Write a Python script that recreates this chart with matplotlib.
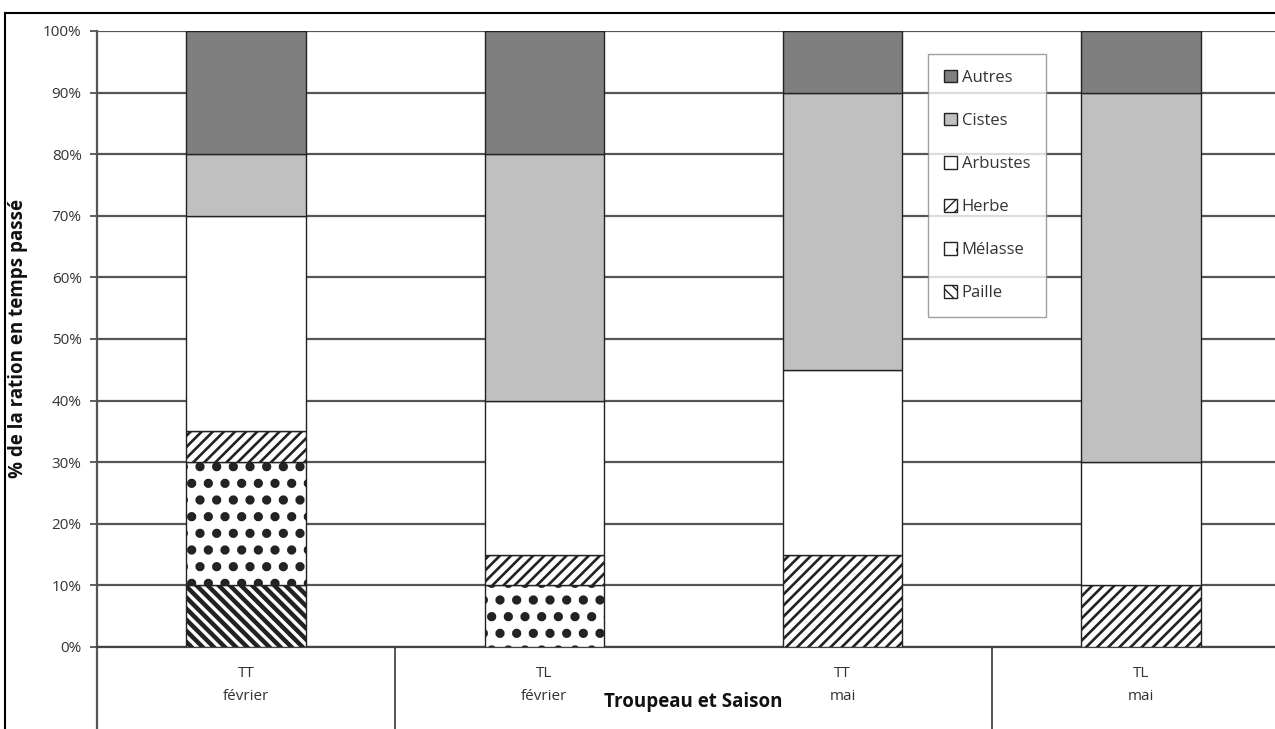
import matplotlib.pyplot as plt
import numpy as np
from matplotlib.lines import Line2D

plt.rcParams['font.family'] = ['Open Sans', 'DejaVu Sans']

# Share of the diet (% of time spent), stacked from bottom to top
groups = ['TT\nfévrier', 'TL\nfévrier', 'TT\nmai', 'TL\nmai']
components = ['Paille', 'Mélasse', 'Herbe', 'Arbustes', 'Cistes', 'Autres']
paille = [10, 0, 0, 0]
melasse = [20, 10, 0, 0]
herbe = [5, 5, 15, 10]
arbustes = [35, 25, 30, 20]
cistes = [10, 40, 45, 60]
autres = [20, 20, 10, 10]
series = [paille, melasse, herbe, arbustes, cistes, autres]

colors = ['white', 'white', 'white', 'white', '#c0c0c0', '#7f7f7f']
hatches = ['\\\\\\', '.', '///', None, None, None]
hatch_lw = [3.2, 4.2, 1.9, 1.0, 1.0, 1.0]

fig = plt.figure(figsize=(12.75, 7.29), dpi=100)
W, H = 1275, 729
ax = fig.add_axes([97 / W, 1 - 647 / H, (1290 - 97) / W, (647 - 31) / H])

x = np.arange(len(groups))
bottom = np.zeros(len(groups))
handles = []
for name, vals, col, hat, hlw in zip(components, series, colors, hatches, hatch_lw):
    with plt.rc_context({'hatch.linewidth': hlw}):
        bars = ax.bar(x, vals, 0.40, bottom=bottom, color=col, edgecolor='#222222',
                      linewidth=1.0, hatch=hat, label=name, zorder=3)
    handles.append(bars)
    bottom += np.array(vals)

ax.set_xlim(-0.5, 3.5)
ax.set_ylim(0, 100)
ax.set_yticks(np.arange(0, 101, 10))
ax.set_yticklabels([f'{v}%' for v in range(0, 101, 10)], fontsize=11, color='#333333')
ax.tick_params(axis='y', direction='out', length=5, width=1.2, color='#444444', pad=6)
ax.set_xticks([])
ax.yaxis.grid(True, color='#555555', linewidth=1.6, zorder=0)
ax.set_axisbelow(True)
for s in ['top', 'right']:
    ax.spines[s].set_visible(False)
ax.spines['left'].set_color('#555555')
ax.spines['left'].set_linewidth(1.6)
ax.spines['bottom'].set_color('#444444')
ax.spines['bottom'].set_linewidth(1.6)

# category box under the axis
ax.add_line(Line2D([0, 0], [0, -0.2], transform=ax.transAxes, color='#555555',
                   linewidth=1.6, clip_on=False))
for xb in [0.5, 2.5]:
    ax.add_line(Line2D([xb, xb], [0, -0.2], transform=ax.get_xaxis_transform(),
                       color='#555555', linewidth=1.4, clip_on=False))
for xi, g in zip(x, groups):
    ax.text(xi, -0.031, g, transform=ax.get_xaxis_transform(), ha='center', va='top',
            fontsize=11, color='#333333', linespacing=1.75)
ax.text(1.5, -0.089, 'Troupeau et Saison', transform=ax.get_xaxis_transform(),
        ha='center', va='center', fontsize=13.5, fontweight='bold', color='#111111')

ax.set_ylabel('% de la ration en temps passé', fontsize=13.5, fontweight='bold',
              color='#111111')
ax.yaxis.set_label_coords(-0.058, 0.5)

leg = ax.legend(handles[::-1], components[::-1], loc='upper left',
                bbox_to_anchor=(928 / W, 1 - 54 / H), bbox_transform=fig.transFigure,
                fontsize=12, frameon=True, fancybox=False, edgecolor='#888888',
                labelspacing=1.62, handlelength=0.78, handleheight=0.78,
                handletextpad=0.3, borderpad=0.95, borderaxespad=0)
leg.get_frame().set_linewidth(1.0)
leg.set_zorder(5)
for t in leg.get_texts():
    t.set_color('#333333')

# outer frame of the figure
fig.add_artist(Line2D([5 / W, 1], [1 - 13 / H, 1 - 13 / H], color='black', linewidth=1.5))
fig.add_artist(Line2D([5 / W, 5 / W], [0, 1 - 13 / H], color='black', linewidth=1.5))

fig.savefig('out.png', dpi=100)
